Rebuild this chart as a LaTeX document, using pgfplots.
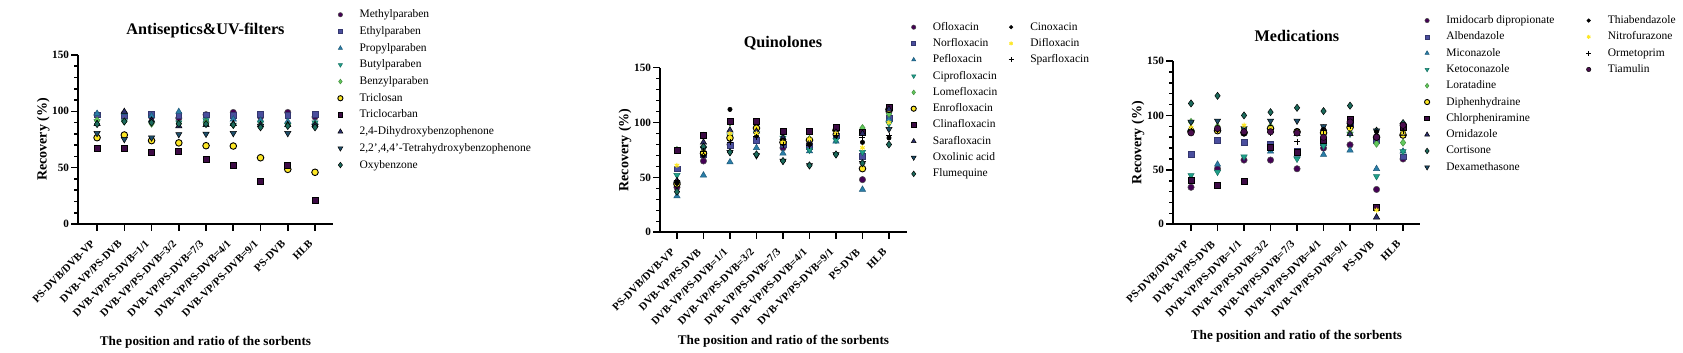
\documentclass[border=0pt]{standalone}
\usepackage{fontspec}
\setmainfont{Liberation Serif}
\usepackage{pgfplots}
\pgfplotsset{compat=1.18}
\definecolor{cA}{HTML}{440154}
\definecolor{cB}{HTML}{4A4E9E}
\definecolor{cC}{HTML}{2A7DA8}
\definecolor{cD}{HTML}{1FA08A}
\definecolor{cE}{HTML}{62C95C}
\definecolor{cF}{HTML}{FDE725}
\definecolor{cG}{HTML}{3D0B45}
\definecolor{cH}{HTML}{2B2F6C}
\definecolor{cI}{HTML}{1E4E6A}
\definecolor{cJ}{HTML}{1B6B5C}
\definecolor{cK}{HTML}{4A0E4E}
\tikzset{
 mA/.style={mark=*, mark size=1.6pt, color=cA, mark options={fill=cA, draw=black!70, line width=0.25pt}},
 mB/.style={mark=square*, mark size=1.45pt, color=cB, mark options={fill=cB, draw=cB!70!black, line width=0.25pt}},
 mC/.style={mark=triangle*, mark size=1.8pt, color=cC, mark options={fill=cC, draw=cC!70!black, line width=0.25pt}},
 mD/.style={mark=triangle*, mark size=1.8pt, color=cD, mark options={rotate=180, fill=cD, draw=cD!70!black, line width=0.25pt}},
 mE/.style={mark=diamond*, mark size=1.8pt, color=cE, mark options={fill=cE, draw=cE!70!black, line width=0.25pt}},
 mF/.style={mark=*, mark size=1.65pt, color=black, mark options={fill=cF, draw=black, line width=0.45pt}},
 mG/.style={mark=square*, mark size=1.5pt, color=black, mark options={fill=cG, draw=black, line width=0.4pt}},
 mH/.style={mark=triangle*, mark size=1.8pt, color=cH, mark options={fill=cH, draw=black, line width=0.25pt}},
 mI/.style={mark=triangle*, mark size=1.8pt, color=cI, mark options={rotate=180, fill=cI, draw=black, line width=0.25pt}},
 mJ/.style={mark=diamond*, mark size=1.8pt, color=cJ, mark options={fill=cJ, draw=black, line width=0.25pt}},
 mK/.style={mark=*, mark size=1.1pt, color=black, mark options={fill=black, draw=black, line width=0.25pt}},
 mL/.style={mark=asterisk, mark size=1.3pt, color=cF, mark options={draw=cF, line width=0.5pt}},
 mM/.style={mark=+, mark size=1.5pt, color=black, mark options={draw=black, line width=0.45pt}},
 mN/.style={mark=*, mark size=1.6pt, color=cK, mark options={fill=cK, draw=black, line width=0.25pt}},
}
\pgfplotsset{
 myaxis/.style={
  scale only axis, anchor=south west, clip=false,
  ymin=0, ymax=150,
  axis x line*=bottom, axis y line*=left,
  axis line style={line width=0.9pt, black},
  ytick={0,50,100,150}, minor y tick num=4,
  xtick={0,...,8},
  xticklabels={PS-DVB/DVB-VP,DVB-VP/PS-DVB,DVB-VP/PS-DVB=1/1,DVB-VP/PS-DVB=3/2,DVB-VP/PS-DVB=7/3,DVB-VP/PS-DVB=4/1,DVB-VP/PS-DVB=9/1,PS-DVB,HLB},
  tick align=outside, major tick length=3.3pt, minor tick length=1.8pt,
  tick style={black, line width=0.8pt},
  /pgf/number format/assume math mode=true,
  yticklabel style={font=\bfseries\fontsize{5.6}{6}\selectfont, inner sep=1pt},
  xticklabel style={font=\bfseries\fontsize{5.4}{6}\selectfont, inner sep=0.5pt, xshift=-3.4pt, yshift=-3.5pt, rotate=45, anchor=north east},
  ylabel={Recovery (\%)},
  xlabel={The position and ratio of the sorbents},
  ylabel style={font=\bfseries\fontsize{7}{8}\selectfont, anchor=center},
  xlabel style={font=\bfseries\fontsize{6.6}{7}\selectfont, anchor=center},
  every axis title shift=0pt,
  title style={font=\bfseries\fontsize{8.1}{9}\selectfont, anchor=center, yshift=0pt},
  legend cell align=left,
  legend image code/.code={\path[draw=none, fill=none] (0pt,0pt) -- (11.1pt,0pt); \draw[#1] plot coordinates {(1.5pt,0pt)};},
  legend style={draw=none, fill=none, inner sep=0pt, anchor=north west,
    column sep=0pt, row sep=0pt,
    font=\fontsize{5.75}{6.5}\selectfont},
 },
}
\begin{document}
\begin{tikzpicture}
\useasboundingbox (0,0) rectangle (841.5pt,176.5pt);
% ---------------- Panel 1
\begin{axis}[myaxis, at={(39pt,64.5pt)}, width=127.5pt, height=84.5pt,
  xmin=-0.7, xmax=8.66,
  title={Antiseptics\&UV-filters},
  title style={at={(axis description cs:0.5,1.142)}},
  ylabel style={at={(axis description cs:-0.136,0.5)}},
  xlabel style={at={(axis description cs:0.5,0)}, yshift=-59pt},
  legend style={at={(axis description cs:1.0157,1.29)},
    nodes={inner xsep=0pt, inner ysep=1.075pt, text height=4.6pt, text depth=1.6pt}},
]
\addplot[only marks, mA, forget plot] coordinates {(0,97)(1,98)(2,95)(3,94)(4,97)(5,99)(6,95)(7,99)(8,95)};
\addplot[only marks, mB, forget plot] coordinates {(0,97)(1,96)(2,97.6)(3,96.7)(4,97)(5,96.7)(6,97.6)(7,96.5)(8,97.6)};
\addplot[only marks, mC, forget plot] coordinates {(0,98)(1,99)(2,96)(3,99.7)(4,92)(5,93)(6,92)(7,91)(8,90)};
\addplot[only marks, mD, forget plot] coordinates {(0,91)(1,91)(2,90)(3,90)(4,92)(5,88)(6,90)(7,88)(8,90)};
\addplot[only marks, mE, forget plot] coordinates {(0,92)(1,91)(2,89)(3,89)(4,90)(5,88)(6,88)(7,88)(8,88)};
\addplot[only marks, mF, forget plot] coordinates {(0,76.6)(1,79)(2,74)(3,72)(4,69.5)(5,69.2)(6,58.8)(7,48.5)(8,45.9)};
\addplot[only marks, mG, forget plot] coordinates {(0,67)(1,67)(2,63.6)(3,64.2)(4,57.4)(5,51.7)(6,37.5)(7,52.3)(8,20.7)};
\addplot[only marks, mH, forget plot] coordinates {(0,89)(1,99.7)(2,92)(3,87)(4,88)(5,89)(6,88)(7,88)(8,88)};
\addplot[only marks, mI, forget plot] coordinates {(0,80.5)(1,75.2)(2,76.6)(3,79.6)(4,79.9)(5,80.5)(6,87)(7,80.5)(8,87)};
\addplot[only marks, mJ, forget plot] coordinates {(0,88.7)(1,91)(2,90)(3,89)(4,88.7)(5,88)(6,85.8)(7,87)(8,85.8)};
\addlegendimage{mA, mark size=1.1pt}\addlegendentry{Methylparaben}
\addlegendimage{mB, mark size=1pt}\addlegendentry{Ethylparaben}
\addlegendimage{mC, mark size=1.2pt}\addlegendentry{Propylparaben}
\addlegendimage{mD, mark size=1.2pt}\addlegendentry{Butylparaben}
\addlegendimage{mE, mark size=1.2pt}\addlegendentry{Benzylparaben}
\addlegendimage{mF, mark size=1.3pt}\addlegendentry{Triclosan}
\addlegendimage{mG, mark size=1.2pt}\addlegendentry{Triclocarban}
\addlegendimage{mH, mark size=1.4pt}\addlegendentry{2,4-Dihydroxybenzophenone}
\addlegendimage{mI, mark size=1.4pt}\addlegendentry{2,2',4,4'-Tetrahydroxybenzophenone}
\addlegendimage{mJ, mark size=1.4pt}\addlegendentry{Oxybenzone}
\end{axis}
% ---------------- Panel 2
\begin{axis}[myaxis, at={(330pt,60.35pt)}, width=123.5pt, height=82.3pt,
  xmin=-0.64, xmax=8.68,
  title={Quinolones},
  title style={at={(axis description cs:0.498,1.150)}},
  ylabel style={at={(axis description cs:-0.142,0.5)}},
  xlabel style={at={(axis description cs:0.5,0)}, yshift=-54.7pt},
  legend columns=2,
  legend style={at={(axis description cs:1.0134,1.298)},
    nodes={inner xsep=0pt, inner ysep=1.075pt, text height=4.5pt, text depth=1.5pt}},
]
\addplot[only marks, mA, forget plot] coordinates {(0,41)(1,65)(2,80)(3,85)(4,77)(5,80)(6,89)(7,48)(8,110)};
\addplot[only marks, mB, forget plot] coordinates {(0,58)(1,71)(2,79)(3,84)(4,80)(5,78)(6,88)(7,69)(8,104)};
\addplot[only marks, mC, forget plot] coordinates {(0,33)(1,52)(2,64)(3,77)(4,72)(5,74)(6,83)(7,39)(8,103)};
\addplot[only marks, mD, forget plot] coordinates {(0,52)(1,77)(2,88)(3,90)(4,86)(5,75)(6,84)(7,73)(8,99)};
\addplot[only marks, mE, forget plot] coordinates {(0,75)(1,88)(2,100)(3,98)(4,90)(5,85)(6,95)(7,95)(8,108)};
\addplot[only marks, mF, forget plot] coordinates {(0,44)(1,72)(2,86)(3,95)(4,82)(5,84)(6,93)(7,58)(8,112)};
\addplot[only marks, mG, forget plot] coordinates {(0,75)(1,88)(2,101)(3,101)(4,92)(5,92)(6,96)(7,91)(8,114)};
\addplot[only marks, mH, forget plot] coordinates {(0,47)(1,82)(2,93)(3,92)(4,86)(5,82)(6,91)(7,90)(8,112)};
\addplot[only marks, mI, forget plot] coordinates {(0,45)(1,76)(2,73)(3,70)(4,65)(5,61)(6,71)(7,63)(8,94)};
\addplot[only marks, mJ, forget plot] coordinates {(0,37)(1,78)(2,73)(3,71)(4,65)(5,61)(6,71)(7,63)(8,80)};
\addplot[only marks, mK, forget plot] coordinates {(0,45)(1,70)(2,112)(3,88)(4,84)(5,80)(6,88)(7,82)(8,86)};
\addplot[only marks, mL, forget plot] coordinates {(0,61)(1,73)(2,90)(3,90)(4,82)(5,85)(6,90)(7,77)(8,100)};
\addplot[only marks, mM, forget plot] coordinates {(0,47)(1,74)(2,82)(3,87)(4,80)(5,79)(6,88)(7,86)(8,88)};
\addlegendimage{mA, mark size=1.1pt}\addlegendentry{\makebox[37.6pt][l]{Ofloxacin}}
\addlegendimage{mK, mark size=0.9pt}\addlegendentry{Cinoxacin}
\addlegendimage{mB, mark size=1pt}\addlegendentry{\makebox[37.6pt][l]{Norfloxacin}}
\addlegendimage{mL, mark size=1pt}\addlegendentry{Difloxacin}
\addlegendimage{mC, mark size=1.2pt}\addlegendentry{\makebox[37.6pt][l]{Pefloxacin}}
\addlegendimage{mM, mark size=1.2pt}\addlegendentry{Sparfloxacin}
\addlegendimage{mD, mark size=1.2pt}\addlegendentry{\makebox[37.6pt][l]{Ciprofloxacin}}
\addlegendimage{empty legend}\addlegendentry{}
\addlegendimage{mE, mark size=1.2pt}\addlegendentry{\makebox[37.6pt][l]{Lomefloxacin}}
\addlegendimage{empty legend}\addlegendentry{}
\addlegendimage{mF, mark size=1.3pt}\addlegendentry{\makebox[37.6pt][l]{Enrofloxacin}}
\addlegendimage{empty legend}\addlegendentry{}
\addlegendimage{mG, mark size=1.2pt}\addlegendentry{\makebox[37.6pt][l]{Clinafloxacin}}
\addlegendimage{empty legend}\addlegendentry{}
\addlegendimage{mH, mark size=1.4pt}\addlegendentry{\makebox[37.6pt][l]{Sarafloxacin}}
\addlegendimage{empty legend}\addlegendentry{}
\addlegendimage{mI, mark size=1.4pt}\addlegendentry{\makebox[37.6pt][l]{Oxolinic acid}}
\addlegendimage{empty legend}\addlegendentry{}
\addlegendimage{mJ, mark size=1.4pt}\addlegendentry{\makebox[37.6pt][l]{Flumequine}}
\addlegendimage{empty legend}\addlegendentry{}
\end{axis}
% ---------------- Panel 3
\begin{axis}[myaxis, at={(586.5pt,64.35pt)}, width=123.5pt, height=81.65pt,
  xmin=-0.68, xmax=8.64,
  title={Medications},
  title style={at={(axis description cs:0.502,1.153)}},
  ylabel style={at={(axis description cs:-0.142,0.5)}},
  xlabel style={at={(axis description cs:0.5,0)}, yshift=-55.9pt},
  legend columns=2,
  legend style={at={(axis description cs:1.015,1.3)},
    nodes={inner xsep=0pt, inner ysep=1.075pt, text height=4.5pt, text depth=1.5pt}},
]
\addplot[only marks, mA, forget plot] coordinates {(0,34)(1,51)(2,59)(3,59)(4,51)(5,70)(6,73)(7,32)(8,60)};
\addplot[only marks, mB, forget plot] coordinates {(0,64)(1,77)(2,75)(3,74)(4,67)(5,75)(6,93)(7,77)(8,62)};
\addplot[only marks, mC, forget plot] coordinates {(0,88)(1,55)(2,86)(3,67)(4,64)(5,64)(6,68)(7,51)(8,67)};
\addplot[only marks, mD, forget plot] coordinates {(0,45)(1,48)(2,62)(3,70)(4,60)(5,72)(6,83)(7,44)(8,67)};
\addplot[only marks, mE, forget plot] coordinates {(0,94)(1,90)(2,88)(3,90)(4,84)(5,84)(6,84)(7,74)(8,75)};
\addplot[only marks, mF, forget plot] coordinates {(0,85)(1,86)(2,84)(3,88)(4,85)(5,84)(6,89)(7,80)(8,82)};
\addplot[only marks, mG, forget plot] coordinates {(0,40)(1,36)(2,39)(3,71)(4,66)(5,77)(6,96)(7,15.6)(8,89)};
\addplot[only marks, mH, forget plot] coordinates {(0,88)(1,88)(2,86)(3,86)(4,83)(5,88)(6,83)(7,6.5)(8,83)};
\addplot[only marks, mJ, forget plot] coordinates {(0,111)(1,118)(2,100)(3,103)(4,107)(5,104)(6,109)(7,86)(8,93)};
\addplot[only marks, mI, forget plot] coordinates {(0,94)(1,95)(2,88)(3,95)(4,95)(5,90)(6,91)(7,86)(8,91)};
\addplot[only marks, mK, forget plot] coordinates {(0,86)(1,87)(2,83)(3,85)(4,86)(5,87)(6,92)(7,85)(8,85)};
\addplot[only marks, mL, forget plot] coordinates {(0,89)(1,89)(2,91)(3,87)(4,85)(5,85)(6,88)(7,13)(8,84)};
\addplot[only marks, mM, forget plot] coordinates {(0,86)(1,87)(2,86)(3,84)(4,76)(5,86)(6,90)(7,80)(8,86)};
\addplot[only marks, mN, forget plot] coordinates {(0,84)(1,88)(2,85)(3,85)(4,84)(5,80)(6,94)(7,80)(8,91)};
\addlegendimage{mA, mark size=1.1pt}\addlegendentry{\makebox[69.7pt][l]{Imidocarb dipropionate}}
\addlegendimage{mK, mark size=0.9pt}\addlegendentry{Thiabendazole}
\addlegendimage{mB, mark size=1pt}\addlegendentry{\makebox[69.7pt][l]{Albendazole}}
\addlegendimage{mL, mark size=1pt}\addlegendentry{Nitrofurazone}
\addlegendimage{mC, mark size=1.2pt}\addlegendentry{\makebox[69.7pt][l]{Miconazole}}
\addlegendimage{mM, mark size=1.2pt}\addlegendentry{Ormetoprim}
\addlegendimage{mD, mark size=1.2pt}\addlegendentry{\makebox[69.7pt][l]{Ketoconazole}}
\addlegendimage{mN, mark size=1.1pt}\addlegendentry{Tiamulin}
\addlegendimage{mE, mark size=1.2pt}\addlegendentry{\makebox[69.7pt][l]{Loratadine}}
\addlegendimage{empty legend}\addlegendentry{}
\addlegendimage{mF, mark size=1.3pt}\addlegendentry{\makebox[69.7pt][l]{Diphenhydraine}}
\addlegendimage{empty legend}\addlegendentry{}
\addlegendimage{mG, mark size=1.2pt}\addlegendentry{\makebox[69.7pt][l]{Chlorpheniramine}}
\addlegendimage{empty legend}\addlegendentry{}
\addlegendimage{mH, mark size=1.4pt}\addlegendentry{\makebox[69.7pt][l]{Ornidazole}}
\addlegendimage{empty legend}\addlegendentry{}
\addlegendimage{mJ, mark size=1.4pt}\addlegendentry{\makebox[69.7pt][l]{Cortisone}}
\addlegendimage{empty legend}\addlegendentry{}
\addlegendimage{mI, mark size=1.4pt}\addlegendentry{\makebox[69.7pt][l]{Dexamethasone}}
\addlegendimage{empty legend}\addlegendentry{}
\end{axis}
\end{tikzpicture}
\end{document}
